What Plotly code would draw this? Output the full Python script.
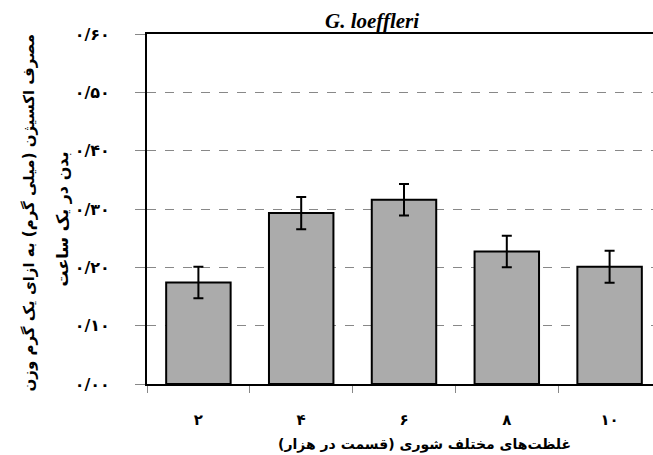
import plotly.graph_objects as go

categories = ["۲", "۴", "۶", "۸", "۱۰"]
values = [0.174, 0.293, 0.316, 0.227, 0.201]
errors = [0.027, 0.0275, 0.027, 0.027, 0.0275]
y_ticks = [0.0, 0.1, 0.2, 0.3, 0.4, 0.5, 0.6]
y_tick_labels = ["۰/۰۰", "۰/۱۰", "۰/۲۰", "۰/۳۰", "۰/۴۰", "۰/۵۰", "۰/۶۰"]
title_text = "G. loeffleri"
x_title = "غلظت‌های مختلف شوری (قسمت در هزار)"
y_title_1 = "مصرف اکسیژن (میلی گرم) به ازای یک گرم وزن"
y_title_2 = "بدن در یک ساعت"

xs = list(range(len(categories)))
fa_font = "DejaVu Sans"

fig = go.Figure()
fig.add_trace(go.Bar(
    x=xs, y=values,
    width=0.627,
    marker=dict(color="#ababab", line=dict(color="black", width=2)),
    error_y=dict(type="data", array=errors, visible=True, color="black",
                 thickness=2, width=5),
))

fig.update_layout(
    width=653, height=455,
    margin=dict(l=147, r=0, t=34, b=71),
    paper_bgcolor="white", plot_bgcolor="white",
    showlegend=False,
    font=dict(family=fa_font, color="black"),
    annotations=[
        dict(text="<b><i>" + title_text + "</i></b>", xref="paper", yref="paper",
             x=(372 - 147) / 506, y=1.0, xanchor="center", yanchor="bottom",
             showarrow=False, yshift=-1,
             font=dict(family="Liberation Serif", size=21, color="black")),
        dict(text="<b>" + y_title_1 + "</b>", xref="paper", yref="paper",
             x=-147 / 506 + 28 / 506, y=0.49, xanchor="center", yanchor="middle",
             textangle=-90, showarrow=False,
             font=dict(family=fa_font, size=15, color="black")),
        dict(text="<b>" + y_title_2 + "</b>", xref="paper", yref="paper",
             x=-147 / 506 + 62 / 506, y=0.47, xanchor="center", yanchor="middle",
             textangle=-90, showarrow=False,
             font=dict(family=fa_font, size=16, color="black")),
        dict(text="<b>" + x_title + "</b>", xref="paper", yref="paper",
             x=(424 - 147) / 506, y=0, yshift=-60, xanchor="center", yanchor="middle",
             showarrow=False,
             font=dict(family=fa_font, size=14, color="black")),
    ],
)

fig.update_xaxes(
    range=[-0.5, -0.5 + 506 / 102.8],
    tickmode="array", tickvals=xs, ticktext=["<b>" + c + "</b>" for c in categories],
    ticks="", ticklabelstandoff=21,
    tickfont=dict(family=fa_font, size=15, color="black"),
    showline=True, linecolor="black", linewidth=2, mirror=True,
    showgrid=False, zeroline=False,
    minor=dict(ticks="outside", ticklen=7, tickcolor="#888888", tickwidth=1,
               tickmode="array", tickvals=[i - 0.5 for i in range(len(categories) + 1)],
               showgrid=False),
)
fig.update_yaxes(
    range=[0, 0.6],
    tickmode="array", tickvals=y_ticks, ticktext=["<b>" + t + "</b>" for t in y_tick_labels],
    ticks="outside", ticklen=10, tickcolor="#888888", tickwidth=1,
    ticklabelstandoff=22,
    tickfont=dict(family=fa_font, size=16, color="black"),
    showline=True, linecolor="black", linewidth=2, mirror=False,
    showgrid=True, gridcolor="#888888", griddash="dash", gridwidth=1,
    zeroline=False,
)

fig.write_html("out.html", config={"displayModeBar": False},
               post_script="document.body.style.margin='0';")
